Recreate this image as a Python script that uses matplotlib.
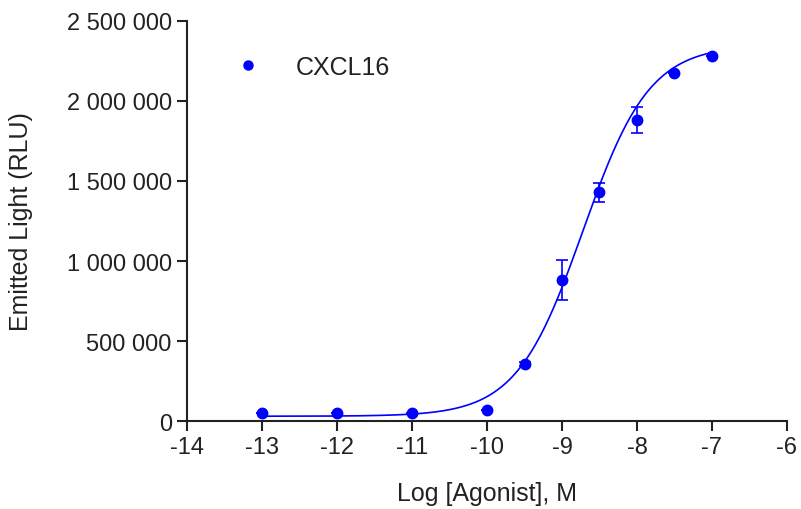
import matplotlib.pyplot as plt
import numpy as np
from matplotlib.ticker import FuncFormatter
from matplotlib.lines import Line2D

plt.rcParams['font.family'] = ['Liberation Sans', 'DejaVu Sans']

# Данні: log концентрації та сигнал
log_conc = [-13, -12, -11, -10, -9.5, -9, -8.5, -8, -7.5, -7]
rlu = [50000, 50000, 50000, 70000, 356000, 881000, 1429000, 1883000, 2173000, 2283000]
rlu_err = [0, 0, 0, 0, 15000, 127000, 60000, 80000, 0, 0]

# Параметри 4PL кривої (оцінені з графіка)
bottom_val = 30000
top_val = 2350000
log_ec50 = -8.72
hill = 0.98

x_ticks = [-14, -13, -12, -11, -10, -9, -8, -7, -6]
y_ticks = [0, 500000, 1000000, 1500000, 2000000, 2500000]

blue = '#0000ff'
dark = '#222222'


def four_pl(x):
    return bottom_val + (top_val - bottom_val) / (1 + 10 ** ((log_ec50 - x) * hill))


fig = plt.figure(figsize=(8.01, 5.10), dpi=100)
ax = fig.add_axes([0.2335, 0.1725, 0.749, 0.7844])

xs = np.linspace(-13, -7, 300)
ax.plot(xs, four_pl(xs), color=blue, lw=1.2)
ax.errorbar(log_conc, rlu, yerr=rlu_err, fmt='o', color=blue, ms=7.5,
            capsize=4, elinewidth=1.2, capthick=1.2)

ax.set_xlim(-14, -6)
ax.set_ylim(0, 2500000)
ax.set_xticks(x_ticks)
ax.set_yticks(y_ticks)
ax.xaxis.set_major_formatter(FuncFormatter(lambda v, p: str(int(v))))
ax.yaxis.set_major_formatter(FuncFormatter(lambda v, p: f'{int(v):,}'.replace(',', ' ')))

for s in ['top', 'right']:
    ax.spines[s].set_visible(False)
for s in ['left', 'bottom']:
    ax.spines[s].set_linewidth(1.5)
    ax.spines[s].set_color(dark)
ax.tick_params(direction='out', length=7, width=1.5, color=dark, labelcolor=dark,
               labelsize=17, pad=4)

ax.set_xlabel('Log [Agonist], M', fontsize=18, labelpad=16, color=dark)
ax.set_ylabel('Emitted Light (RLU)', fontsize=18, color=dark)
ax.yaxis.set_label_coords(-0.257, 0.5)

handle = Line2D([], [], marker='o', ls='none', color=blue, ms=6.5)
ax.legend([handle], ['CXCL16'], loc='center left', bbox_to_anchor=(0.023, 0.885),
          frameon=False, fontsize=18, handletextpad=0.9, labelcolor=dark)

fig.savefig('out.png', dpi=100)
